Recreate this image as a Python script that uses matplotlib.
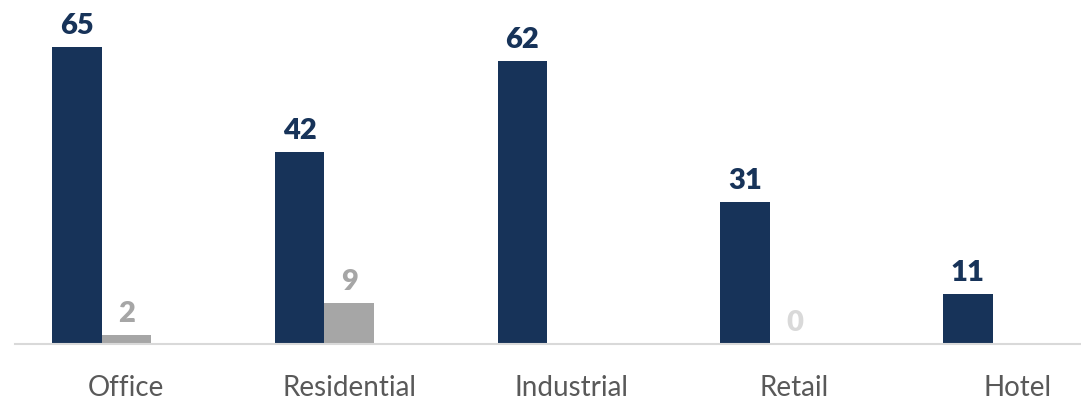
import matplotlib
matplotlib.use("Agg")
import matplotlib.pyplot as plt

# Data
categories = ["Office", "Residential", "Industrial", "Retail", "Hotel"]
series_a = [65, 42, 62, 31, 11]
series_b = [2, 9, None, 0, None]

NAVY = "#173359"
GREY = "#a6a6a6"
LIGHT = "#d9d9d9"
TEXT = "#595959"
FONTS = ["Lato", "DejaVu Sans"]

W, H, DPI = 1081, 401, 100
fig = plt.figure(figsize=(W / DPI, H / DPI), dpi=DPI)

# Axes runs past the right edge; baseline sits 344 px from the top
left_px, width_px = 15, 1113.75
base_px = 344
px_per_unit = 4.57
ax = fig.add_axes([left_px / W, (H - base_px) / H, width_px / W, base_px / H])
ax.set_xlim(-0.5, len(categories) - 0.5)
ax.set_ylim(0, base_px / px_per_unit)

bw = 49.5 / 222.75  # bar width in category units (three slots per group)
label_gap = 9.4      # points between bar top and value baseline

for i, (a, b) in enumerate(zip(series_a, series_b)):
    xa = i - bw
    ax.bar(xa, a, width=bw, color=NAVY, linewidth=0)
    ax.annotate(str(a), xy=(xa, a), xytext=(0, label_gap), textcoords="offset points",
                ha="center", va="baseline", fontsize=21, fontweight="heavy",
                color=NAVY, family=FONTS)
    if b is not None:
        xb = i
        ax.bar(xb, b, width=bw, color=GREY, linewidth=0)
        ax.annotate(str(b), xy=(xb, b), xytext=(0, label_gap), textcoords="offset points",
                    ha="center", va="baseline", fontsize=21, fontweight="heavy",
                    color=GREY if b != 0 else LIGHT, family=FONTS)
    ax.annotate(categories[i], xy=(i, 0), xycoords=("data", "axes fraction"),
                xytext=(0, -37.4), textcoords="offset points",
                ha="center", va="baseline", fontsize=20, color=TEXT,
                family=FONTS)

for s in ["top", "right", "left"]:
    ax.spines[s].set_visible(False)
ax.spines["bottom"].set_color(LIGHT)
ax.spines["bottom"].set_linewidth(1.5)
ax.set_xticks([])
ax.set_yticks([])
ax.patch.set_alpha(0)

fig.savefig("out.png", dpi=DPI)
